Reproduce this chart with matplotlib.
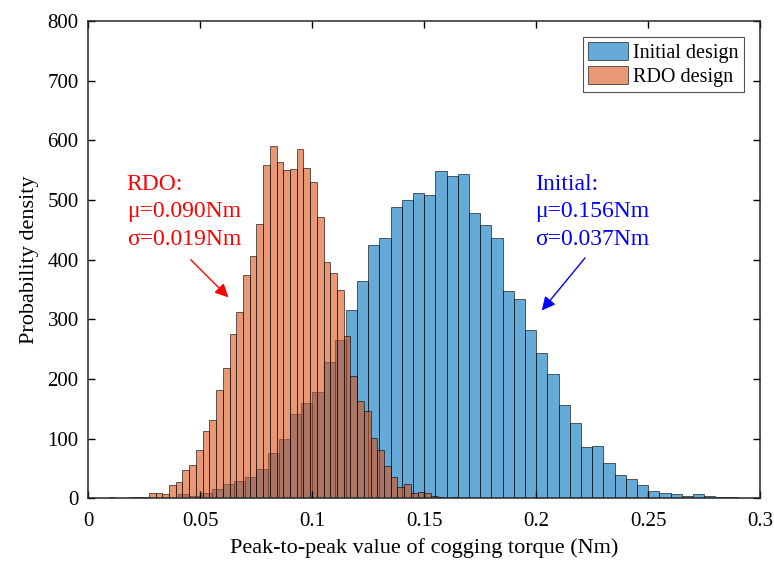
import numpy as np
import matplotlib
matplotlib.use('Agg')
import matplotlib.pyplot as plt

plt.rcParams['font.family'] = ['Liberation Serif', 'DejaVu Serif']

# Initial design histogram: bins of 0.005 Nm starting at 0.035 Nm
init_start = 0.035
init_width = 0.005
init_counts = [1, 7, 4, 10, 16, 25, 29, 36, 50, 76,
               99, 141, 160, 179, 228, 266, 315, 364, 425, 437,
               489, 500, 512, 509, 549, 540, 543, 479, 458, 437,
               347, 334, 282, 243, 208, 157, 126, 86, 88, 59,
               40, 32, 22, 13, 10, 7, 5, 7, 4, 2,
               2, 0.5]

# RDO design histogram: bins of 0.003 Nm starting at 0.009 Nm
rdo_start = 0.009
rdo_width = 0.003
rdo_counts = [2, 0.5, 0.5, 2, 3, 2, 9, 9, 7, 22,
              27, 47, 56, 81, 113, 131, 181, 219, 275, 313,
              374, 407, 460, 559, 591, 563, 551, 552, 585, 553,
              531, 471, 397, 378, 350, 273, 206, 164, 147, 102,
              82, 54, 36, 20, 24, 10, 11, 9, 5, 2,
              0.5, 2, 1.5, 1.5]

init_left = init_start + init_width * np.arange(len(init_counts))
rdo_left = rdo_start + rdo_width * np.arange(len(rdo_counts))

fig = plt.figure(figsize=(7.74, 5.72), dpi=100)
ax = fig.add_axes([0.1143, 0.1285, 0.8677, 0.8348])

ax.bar(init_left, init_counts, width=init_width, align='edge',
       color='#0072BD', alpha=0.6, edgecolor='black', linewidth=0.7,
       label='Initial design')
ax.bar(rdo_left, rdo_counts, width=rdo_width, align='edge',
       color='#D95319', alpha=0.6, edgecolor='black', linewidth=0.7,
       label='RDO design')

ax.set_xlim(0, 0.3)
ax.set_ylim(0, 800)
ax.set_xticks([0, 0.05, 0.1, 0.15, 0.2, 0.25, 0.3])
ax.set_xticklabels(['0', '0.05', '0.1', '0.15', '0.2', '0.25', '0.3'])
ax.set_yticks(np.arange(0, 801, 100))
ax.tick_params(direction='in', length=5, width=1, labelsize=15,
               top=True, right=True)
ax.tick_params(axis='x', pad=10)
ax.tick_params(axis='y', pad=7)
for s in ax.spines.values():
    s.set_linewidth(1.1)
    s.set_color('#262626')

ax.set_xlabel('Peak-to-peak value of cogging torque (Nm)', fontsize=16, labelpad=5)
ax.set_ylabel('Probability density', fontsize=16, labelpad=6)

# annotations
ax.text(0.0171, 543, 'RDO:\n\u03bc=0.090Nm\n\u03c3=0.019Nm', color='red',
        fontsize=17, va='top', ha='left', linespacing=1.38)
ax.annotate('', xy=(0.0625, 337), xytext=(0.0457, 400),
            arrowprops=dict(arrowstyle='-|>', color='red', lw=1,
                            mutation_scale=20, shrinkA=0, shrinkB=0))
ax.text(0.1996, 543, 'Initial:\n\u03bc=0.156Nm\n\u03c3=0.037Nm', color='blue',
        fontsize=17, va='top', ha='left', linespacing=1.38)
ax.annotate('', xy=(0.2025, 315), xytext=(0.2218, 403),
            arrowprops=dict(arrowstyle='-|>', color='blue', lw=1,
                            mutation_scale=20, shrinkA=0, shrinkB=0))

leg = ax.legend(loc='upper right', fontsize=14.5, frameon=True, fancybox=False,
                edgecolor='#262626', borderpad=0.25, labelspacing=0.15,
                handlelength=2.0, handleheight=1.0, handletextpad=0.25,
                borderaxespad=0.8)
leg.get_frame().set_linewidth(0.8)
for h in leg.legend_handles:
    h.set_alpha(0.6)

fig.savefig('out.png', dpi=100)
